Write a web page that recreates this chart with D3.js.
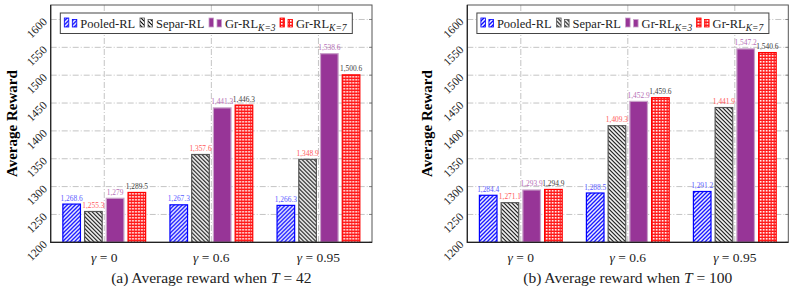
<!DOCTYPE html>
<html>
<head>
<meta charset="utf-8">
<script src="https://cdn.jsdelivr.net/npm/d3@7"></script>
<style>
  body { margin: 0; background: #fff; }
  text { font-family: "Liberation Serif", "DejaVu Serif", serif; }
</style>
</head>
<body>
<svg id="chart" width="789" height="291"></svg>
<script>
// categories and series
const gammas = ['0', '0.6', '0.95'];
const seriesKeys = ['pooled', 'separ', 'gr3', 'gr7'];
const yTicks = [1200, 1250, 1300, 1350, 1400, 1450, 1500, 1550, 1600];

// T = 42
const pooledT42 = [1268.6, 1267.3, 1266.3];
const separT42 = [1255.3, 1357.6, 1348.9];
const gr3T42 = [1279, 1441.3, 1538.6];
const gr7T42 = [1289.5, 1446.3, 1500.6];

// T = 100
const pooledT100 = [1284.4, 1288.5, 1291.2];
const separT100 = [1271.1, 1409.3, 1441.9];
const gr3T100 = [1293.9, 1452.9, 1547.2];
const gr7T100 = [1294.9, 1459.6, 1540.6];

const svg = d3.select('#chart');
const defs = svg.append('defs');

// hatch patterns
function linePattern(id, color, dir, w) {
	const p = defs.append('pattern')
		.attr('id', id)
		.attr('patternUnits', 'userSpaceOnUse')
		.attr('width', 4).attr('height', 4);
	p.append('rect').attr('width', 4).attr('height', 4).attr('fill', '#fff');
	const d = dir > 0
		? 'M-1,1 l2,-2 M0,4 l4,-4 M3,5 l2,-2'
		: 'M-1,3 l2,2 M0,0 l4,4 M3,-1 l2,2';
	p.append('path').attr('d', d).attr('stroke', color).attr('stroke-width', w);
}
linePattern('hatchBlue', '#0000ff', 1, 1.3);
linePattern('hatchBlack', '#000', -1, 1.1);

// crosshatch dots
const dots = defs.append('pattern')
	.attr('id', 'dotsRed')
	.attr('patternUnits', 'userSpaceOnUse')
	.attr('width', 3).attr('height', 3);
dots.append('rect').attr('width', 3).attr('height', 3).attr('fill', '#ff1a1a');
dots.append('rect').attr('x', 1).attr('y', 1).attr('width', 1.6).attr('height', 1.6).attr('fill', '#fff');

const style = {
	pooled: { fill: 'url(#hatchBlue)', stroke: '#0000ff', label: '#5a5aff' },
	separ: { fill: 'url(#hatchBlack)', stroke: '#555', label: '#ff5a5a' },
	gr3: { fill: '#973597', stroke: '#c8a0c8', label: '#b670b6' },
	gr7: { fill: 'url(#dotsRed)', stroke: '#ff0000', label: '#404040' }
};

const fmt = d3.format(',');

function panel(opts) {
	const { x0, x1, y0, y1, data, tag, tVal } = opts;
	const g = svg.append('g');

	const y = d3.scaleLinear().domain([1200, 1626]).range([y1, y0]);
	const x = d3.scalePoint().domain(gammas).range([x0, x1]).padding(0.5);
	const xs = d3.scaleBand().domain(seriesKeys).range([-41.4, 41.4]).paddingInner(0.19);

	// grid
	g.append('g').selectAll('line.h')
		.data(yTicks.slice(1))
		.join('line')
		.attr('x1', x0).attr('x2', x1)
		.attr('y1', (d) => y(d)).attr('y2', (d) => y(d))
		.attr('stroke', '#c4c4c4')
		.attr('stroke-dasharray', '6,2,1,2');
	g.append('g').selectAll('line.v')
		.data(gammas)
		.join('line')
		.attr('x1', (d) => x(d)).attr('x2', (d) => x(d))
		.attr('y1', y0).attr('y2', y1)
		.attr('stroke', '#c4c4c4')
		.attr('stroke-dasharray', '6,2,1,2');

	// inner ticks on right side
	g.append('g').selectAll('line')
		.data(yTicks)
		.join('line')
		.attr('x1', x1 - 3).attr('x2', x1)
		.attr('y1', (d) => y(d)).attr('y2', (d) => y(d))
		.attr('stroke', '#888');

	// bars
	const groups = g.append('g').selectAll('g')
		.data(gammas)
		.join('g')
		.attr('transform', (d) => `translate(${x(d)},0)`);

	groups.selectAll('rect')
		.data((d, i) => seriesKeys.map((k) => ({ key: k, value: data[k][i] })))
		.join('rect')
		.attr('x', (d) => xs(d.key))
		.attr('width', xs.bandwidth())
		.attr('y', (d) => y(d.value))
		.attr('height', (d) => y(1200) - y(d.value))
		.attr('fill', (d) => style[d.key].fill)
		.attr('stroke', (d) => style[d.key].stroke)
		.attr('stroke-width', 1.2);

	groups.selectAll('text')
		.data((d, i) => seriesKeys.map((k) => ({ key: k, value: data[k][i] })))
		.join('text')
		.attr('x', (d) => xs(d.key) + xs.bandwidth() / 2)
		.attr('y', (d) => y(d.value) - 3.5)
		.attr('text-anchor', 'middle')
		.attr('font-size', 7.4)
		.attr('fill', (d) => style[d.key].label)
		.text((d) => fmt(d.value));

	// frame
	g.append('rect')
		.attr('x', x0).attr('y', y0)
		.attr('width', x1 - x0).attr('height', y1 - y0)
		.attr('fill', 'none')
		.attr('stroke', '#555');
	g.append('path')
		.attr('d', `M${x0},${y0}V${y1}H${x1}`)
		.attr('fill', 'none')
		.attr('stroke', '#222')
		.attr('stroke-width', 1.2);

	// y tick labels, rotated
	g.append('g').selectAll('text')
		.data(yTicks)
		.join('text')
		.attr('transform', (d) => `translate(${x0 - 3},${y(d) + 3}) rotate(-45)`)
		.attr('text-anchor', 'end')
		.attr('font-size', 11.5)
		.attr('fill', '#222')
		.text((d) => d);

	// x tick labels
	const xl = g.append('g').selectAll('text')
		.data(gammas)
		.join('text')
		.attr('x', (d) => x(d))
		.attr('y', y1 + 20)
		.attr('text-anchor', 'middle')
		.attr('font-size', 13.5)
		.attr('fill', '#222');
	xl.append('tspan').attr('font-style', 'italic').text('γ');
	xl.append('tspan').text((d) => ' = ' + d);

	// y title
	g.append('text')
		.attr('transform', `translate(${opts.titleX},${(y0 + y1) / 2}) rotate(-90)`)
		.attr('text-anchor', 'middle')
		.attr('font-size', 15)
		.attr('font-weight', 'bold')
		.text('Average Reward');

	// caption
	const cap = g.append('text')
		.attr('x', (x0 + x1) / 2)
		.attr('y', 283)
		.attr('text-anchor', 'middle')
		.attr('font-size', 15.5)
		.attr('fill', '#222');
	cap.append('tspan').text(`(${tag}) Average reward when `);
	cap.append('tspan').attr('font-style', 'italic').text('T');
	cap.append('tspan').text(' = ' + tVal);

	// legend
	const lg = g.append('g').attr('transform', `translate(${x0 + 9.6},${y0 + 8})`);
	lg.append('rect')
		.attr('width', 292).attr('height', 20.5)
		.attr('fill', '#fff')
		.attr('stroke', '#444');
	const entries = [
		{ key: 'pooled', x: 4, name: 'Pooled-RL', sub: null },
		{ key: 'separ', x: 79.7, name: 'Separ-RL', sub: null },
		{ key: 'gr3', x: 148.7, name: 'Gr-RL', sub: 'K=3' },
		{ key: 'gr7', x: 219.7, name: 'Gr-RL', sub: 'K=7' }
	];
	const le = lg.selectAll('g.entry')
		.data(entries)
		.join('g')
		.attr('transform', (d) => `translate(${d.x},0)`);
	le.append('rect')
		.attr('x', 0).attr('y', 5).attr('width', 4.5).attr('height', 9)
		.attr('fill', (d) => style[d.key].fill)
		.attr('stroke', (d) => style[d.key].stroke)
		.attr('stroke-width', 0.8);
	le.append('rect')
		.attr('x', 8).attr('y', 6.5).attr('width', 4.5).attr('height', 7.5)
		.attr('fill', (d) => style[d.key].fill)
		.attr('stroke', (d) => style[d.key].stroke)
		.attr('stroke-width', 0.8);
	const lt = le.append('text')
		.attr('x', 16).attr('y', 14.5)
		.attr('font-size', 12.5)
		.attr('fill', '#222');
	lt.append('tspan').text((d) => d.name);
	lt.filter((d) => d.sub)
		.append('tspan')
		.attr('dy', 3)
		.attr('font-size', 9.5)
		.attr('font-style', 'italic')
		.text((d) => d.sub);
}

panel({
	x0: 50.7, x1: 372, y0: 5, y1: 242.3, titleX: 17, tag: 'a', tVal: 42,
	data: { pooled: pooledT42, separ: separT42, gr3: gr3T42, gr7: gr7T42 }
});
panel({
	x0: 467.3, x1: 788.3, y0: 5, y1: 242.3, titleX: 432, tag: 'b', tVal: 100,
	data: { pooled: pooledT100, separ: separT100, gr3: gr3T100, gr7: gr7T100 }
});
</script>
</body>
</html>
